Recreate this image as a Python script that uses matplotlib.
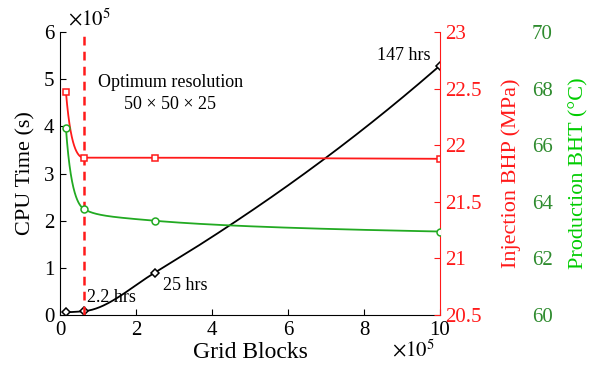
import numpy as np
import matplotlib
matplotlib.use("Agg")
import matplotlib.pyplot as plt

plt.rcParams['font.family'] = ['Liberation Serif', 'DejaVu Serif']
plt.rcParams['mathtext.fontset'] = 'stix'

# Data (grid blocks in units of 1e5)
grid_blocks = [0.15625, 0.625, 2.5, 10.0]
cpu_time = [0.06, 0.08, 0.90, 5.29]          # x1e5 s
inj_bhp = [22.47, 21.89, 21.89, 21.88]       # MPa
prod_bht = [66.6, 63.75, 63.33, 62.95]       # deg C
hrs_labels = ["2.2 hrs", "25 hrs", "147 hrs"]
optimum_x = 0.625


def pchip(x, y, xs):
    x = np.asarray(x, float); y = np.asarray(y, float)
    h = np.diff(x); d = np.diff(y) / h
    n = len(x); m = np.zeros(n)
    for k in range(1, n - 1):
        if d[k - 1] * d[k] > 0:
            w1 = 2 * h[k] + h[k - 1]; w2 = h[k] + 2 * h[k - 1]
            m[k] = (w1 + w2) / (w1 / d[k - 1] + w2 / d[k])
    def end(h0, h1, d0, d1):
        s = ((2 * h0 + h1) * d0 - h0 * d1) / (h0 + h1)
        if np.sign(s) != np.sign(d0):
            s = 0.0
        elif np.sign(d0) != np.sign(d1) and abs(s) > abs(3 * d0):
            s = 3 * d0
        return s
    m[0] = end(h[0], h[1], d[0], d[1])
    m[-1] = end(h[-1], h[-2], d[-1], d[-2])
    out = np.empty_like(xs)
    for i, xv in enumerate(xs):
        k = min(max(np.searchsorted(x, xv) - 1, 0), n - 2)
        t = (xv - x[k]) / h[k]
        h00 = 2*t**3 - 3*t**2 + 1; h10 = t**3 - 2*t**2 + t
        h01 = -2*t**3 + 3*t**2; h11 = t**3 - t**2
        out[i] = h00*y[k] + h10*h[k]*m[k] + h01*y[k+1] + h11*h[k]*m[k+1]
    return out

fig = plt.figure(figsize=(5.9, 3.77), dpi=100)
ax = fig.add_axes([0.1017, 0.1645, 0.644, 0.7505])

red = '#ff1a1a'
green_line = '#22aa22'

xs = np.linspace(grid_blocks[0], grid_blocks[-1], 400)
lx = np.log(grid_blocks)
xs_log = np.exp(np.linspace(lx[0], lx[-1], 400))

ax.plot(xs, pchip(grid_blocks, cpu_time, xs), color='black', lw=1.3)
ax.plot(grid_blocks, cpu_time, 'D', mfc='white', mec='black', ms=4.5, mew=1.1)
ax.axvline(optimum_x, color=red, lw=1.8, ls=(0, (3.5, 2.5)))

ax.set_xlim(0, 10)
ax.set_ylim(0, 6)
ax.set_xticks([0, 2, 4, 6, 8, 10])
ax.set_yticks([0, 1, 2, 3, 4, 5, 6])
ax.tick_params(direction='in', length=4, labelsize=15, pad=4)
ax.spines['top'].set_visible(False)
ax.spines['right'].set_visible(False)
ax.set_xlabel('Grid Blocks', fontsize=17, labelpad=2)
ax.set_ylabel('CPU Time (s)', fontsize=16, labelpad=6)

ax.text(0.02, 1.005, r'$\times10^5$', transform=ax.transAxes, fontsize=15, va='bottom', ha='left')
ax.text(0.875, -0.148, r'$\times10^5$', transform=ax.transAxes, fontsize=15, va='baseline', ha='left')

ax.text(2.9, 4.93, 'Optimum resolution', fontsize=13, ha='center', va='center')
ax.text(2.9, 4.47, '50 × 50 × 25', fontsize=13, ha='center', va='center')
ax.text(0.72, 0.37, hrs_labels[0], fontsize=13, ha='left', va='center')
ax.text(2.72, 0.63, hrs_labels[1], fontsize=13, ha='left', va='center')
ax.text(9.05, 5.5, hrs_labels[2], fontsize=13, ha='center', va='center')

# Red axis
axr = ax.twinx()
axr.set_position(ax.get_position())
axr.plot(xs_log, pchip(lx, inj_bhp, np.log(xs_log)), color=red, lw=1.3)
axr.plot(grid_blocks, inj_bhp, 's', mfc='white', mec=red, ms=4.5, mew=1.1)
axr.set_ylim(20.5, 23)
axr.set_yticks([20.5, 21, 21.5, 22, 22.5, 23])
axr.set_yticklabels(['20.5', '21', '21.5', '22', '22.5', '23'])
axr.tick_params(axis='y', direction='in', length=4, labelsize=15, colors=red, pad=4)
axr.spines['right'].set_color(red)
axr.spines['top'].set_visible(False)
axr.spines['left'].set_visible(False)
axr.spines['bottom'].set_visible(False)
axr.set_ylabel('Injection BHP (MPa)', fontsize=16, color=red, labelpad=14)

# Green axis
axg = ax.twinx()
axg.set_position(ax.get_position())
axg.plot(xs_log, pchip(lx, prod_bht, np.log(xs_log)), color=green_line, lw=1.3)
axg.plot(grid_blocks, prod_bht, 'o', mfc='white', mec=green_line, ms=5, mew=1.1)
axg.set_ylim(60, 70)
axg.set_yticks([60, 62, 64, 66, 68, 70])
axg.spines['right'].set_position(('outward', 62))
axg.spines['right'].set_visible(False)
axg.spines['top'].set_visible(False)
axg.spines['left'].set_visible(False)
axg.spines['bottom'].set_visible(False)
axg.tick_params(axis='y', length=0, labelsize=15, labelcolor='#2e8b2e', pad=4)
axg.set_ylabel('Production BHT (°C)', fontsize=16, color='#00cc00', labelpad=12)

fig.savefig('out.png', dpi=100)
